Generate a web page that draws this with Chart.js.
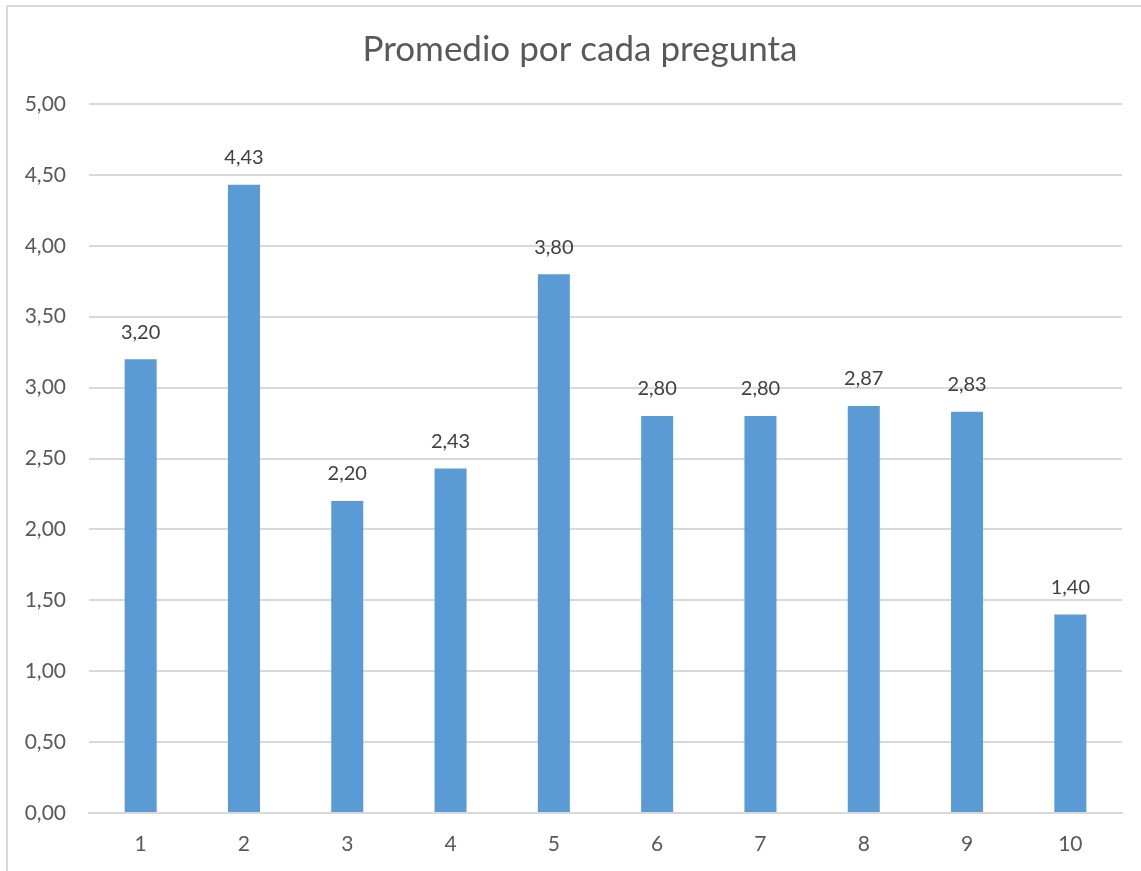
<!DOCTYPE html>
<html>
<head>
<meta charset="utf-8">
<script src="https://cdn.jsdelivr.net/npm/chart.js@4"></script>
<style>
  html, body { margin: 0; padding: 0; background: #fff; }
  #wrap { width: 1141px; height: 871px; }
</style>
</head>
<body>
<div id="wrap"><canvas id="chart"></canvas></div>
<script>
// chart data
let preguntas = ["1", "2", "3", "4", "5", "6", "7", "8", "9", "10"];
let promedios = [3.20, 4.43, 2.20, 2.43, 3.80, 2.80, 2.80, 2.87, 2.83, 1.40];
let titulo = "Promedio por cada pregunta";

function coma(v) {
    return v.toFixed(2).replace(".", ",");
}

// white background, light frame and the title (centred on the whole frame, like Excel)
let framePlugin = {
    id: "frame",
    beforeDraw(chart) {
        let ctx = chart.ctx;
        ctx.save();
        ctx.fillStyle = "#ffffff";
        ctx.fillRect(0, 0, chart.width, chart.height);
        ctx.strokeStyle = "#d9d9d9";
        ctx.lineWidth = 2;
        ctx.strokeRect(7, 6, 1300, 1000);
        ctx.font = "35px Lato";
        ctx.fillStyle = "#595959";
        ctx.textAlign = "center";
        ctx.textBaseline = "middle";
        ctx.fillText(titulo, 580, 50);
        ctx.restore();
    }
};

// value labels above bars
let labelPlugin = {
    id: "barLabels",
    afterDatasetsDraw(chart) {
        let ctx = chart.ctx;
        let meta = chart.getDatasetMeta(0);
        ctx.save();
        ctx.font = "20px Lato";
        ctx.fillStyle = "#404040";
        ctx.textAlign = "center";
        ctx.textBaseline = "middle";
        meta.data.forEach((bar, i) => {
            ctx.fillText(coma(promedios[i]), bar.x, bar.y - 27);
        });
        ctx.restore();
    }
};

let chart = new Chart(document.getElementById("chart"), {
    type: "bar",
    data: {
        labels: preguntas,
        datasets: [{
            data: promedios,
            backgroundColor: "#5b9bd5",
            barPercentage: 0.31,
            categoryPercentage: 1
        }]
    },
    options: {
        responsive: true,
        maintainAspectRatio: false,
        animation: false,
        layout: {
            padding: { left: 7, right: 19, top: 104, bottom: 0 }
        },
        plugins: {
            legend: { display: false },
            tooltip: { enabled: false },
            title: { display: false }
        },
        scales: {
            x: {
                grid: { display: false, drawTicks: false },
                border: { display: true, color: "#d9d9d9", width: 2 },
                ticks: {
                    color: "#595959",
                    font: { family: "Lato", size: 21 },
                    padding: 19
                },
                afterFit(scale) { scale.height = 58; }
            },
            y: {
                min: 0,
                max: 5,
                grid: { color: "#d9d9d9", lineWidth: 2, drawTicks: false },
                border: { display: false },
                ticks: {
                    stepSize: 0.5,
                    color: "#595959",
                    font: { family: "Lato", size: 21 },
                    padding: 23,
                    callback: (v) => coma(v)
                },
                afterFit(scale) { scale.width = 82; }
            }
        }
    },
    plugins: [framePlugin, labelPlugin]
});
</script>
</body>
</html>
